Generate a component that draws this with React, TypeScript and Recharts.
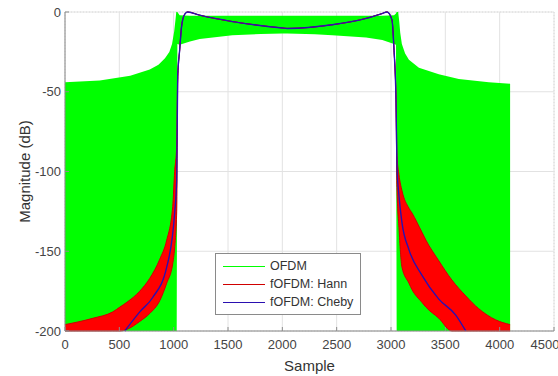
import { ComposedChart, Area, Line, XAxis, YAxis, CartesianGrid } from 'recharts'

const xTicks = [0, 500, 1000, 1500, 2000, 2500, 3000, 3500, 4000, 4500]
const yTicks = [-200, -150, -100, -50, 0]
const xMinorTicks = Array.from({ length: 46 }, (_, i) => i * 100)
const yMinorTicks = Array.from({ length: 21 }, (_, i) => -200 + i * 10)

// OFDM spectrum, drawn as the envelope of its sidelobes (dB)
const ofdmSample = [0, 320, 600, 780, 860, 920, 960, 985, 1005, 1018, 1024, 1028, 1034, 1055, 1150, 1240, 1540, 1800, 2000, 2046, 2300, 2460, 2770, 2920, 3028, 3046, 3052, 3058, 3066, 3076, 3085, 3100, 3130, 3165, 3257, 3440, 3624, 3900, 4096]
const ofdmLow = [-200, -200, -200, -200, -200, -200, -200, -200, -200, -200, -200, -200, -20, -20.6, -18.5, -17, -14.5, -13.8, -13.5, -13.5, -14, -14.5, -16, -17.5, -20, -20.6, -200, -200, -200, -200, -200, -200, -200, -200, -200, -200, -200, -200, -200]
const ofdmHigh = [-44, -43, -40, -36, -33, -29, -25, -20, -12, -4, 0, 0, 0, -2, -2.3, -2.3, -2.3, -2.3, -2.3, -2.3, -2.3, -2.3, -2.3, -2.3, -2, -1, 0, 0, 0, -6, -13, -20, -26, -30, -35, -39, -42, -44, -45]

// fOFDM with Hann window
const hannSample = [0, 257, 440, 505, 569, 688, 780, 872, 936, 991, 1009, 1028, 1037, 1055, 1073, 1101, 1128, 1239, 1541, 2000, 2046, 2459, 2771, 2917, 2963, 3009, 3028, 3046, 3055, 3073, 3101, 3165, 3193, 3284, 3321, 3440, 3560, 3688, 3807, 3963, 4096]
const hannLow = [-200, -200, -200, -200, -199, -194, -189, -181, -170, -158, -148, -125, -45, -24, -9, -1.5, 0, -2, -6, -10, -10.3, -8, -4, -1, 0, -5, -24, -55, -110, -135, -160, -170, -174, -182, -185, -192, -200, -200, -200, -200, -200]
const hannHigh = [-196, -192, -188, -185, -182, -175, -167, -155, -143, -122, -100, -84, -40, -24, -9, -1.5, 0, -2, -6, -10, -10.3, -8, -4, -1, 0, -5, -24, -55, -90, -102, -112, -123, -126, -138, -143, -156, -168, -178, -186, -193, -196]

// fOFDM with Chebyshev window
const chebySample = [550, 688, 807, 936, 1009, 1028, 1037, 1055, 1073, 1101, 1128, 1239, 1541, 2000, 2046, 2459, 2771, 2917, 2963, 3009, 3028, 3046, 3055, 3073, 3101, 3165, 3284, 3440, 3596, 3688]
const chebyDb = [-200, -188, -179, -160, -126, -105, -40, -24, -9, -1.5, 0, -2, -6, -10, -10.3, -8, -4, -1, 0, -5, -24, -55, -97, -115, -132, -149, -165, -180, -190, -200]

const legendItems = [
  { name: 'OFDM', color: '#00ff00' },
  { name: 'fOFDM: Hann', color: '#d00000' },
  { name: 'fOFDM: Cheby', color: '#2a10b0' },
]

const ofdmData = ofdmSample.map((s, i) => ({ sample: s, range: [ofdmLow[i], ofdmHigh[i]] }))
const hannData = hannSample.map((s, i) => ({ sample: s, range: [hannLow[i], hannHigh[i]] }))
const chebyData = chebySample.map((s, i) => ({ sample: s, db: chebyDb[i] }))

const font = '"Liberation Sans", Arial, sans-serif'

function LegendBox() {
  return (
    <div style={{ position: 'absolute', left: 215, top: 253, width: 144, border: '1px solid #8a8a8a', background: '#fff', padding: '3px 0', fontFamily: font, fontSize: 12.5, color: '#333', lineHeight: '18px' }}>
      {legendItems.map((it) => (
        <div key={it.name} style={{ position: 'relative', height: 18 }}>
          <div style={{ position: 'absolute', left: 7, top: 9, width: 42, height: 1, background: it.color }} />
          <div style={{ position: 'absolute', left: 54, top: 0, whiteSpace: 'nowrap' }}>{it.name}</div>
        </div>
      ))}
    </div>
  )
}

export default function App() {
  return (
    <div style={{ position: 'absolute', left: 0, top: 0, width: 558, height: 376 }}>
      <ComposedChart width={558} height={376} margin={{ top: 12, right: 4, left: 0, bottom: 0 }}>
        <XAxis xAxisId="minor" dataKey="sample" type="number" domain={[0, 4500]} ticks={xMinorTicks} hide />
        <YAxis yAxisId="minor" type="number" domain={[-200, 0]} ticks={yMinorTicks} hide />
        <CartesianGrid xAxisId="minor" yAxisId="minor" stroke="#d4d4d4" strokeDasharray="1 2" />
        <CartesianGrid stroke="#e2e2e2" />
        <XAxis
          dataKey="sample"
          type="number"
          domain={[0, 4500]}
          ticks={xTicks}
          height={45}
          stroke="#8c8c8c"
          tickSize={-4}
          tickMargin={13}
          tick={{ fontSize: 13, fill: '#444', fontFamily: font }}
          label={{ value: 'Sample', position: 'insideBottom', offset: 5, style: { fontSize: 15, fill: '#333', fontFamily: font } }}
        />
        <YAxis
          type="number"
          domain={[-200, 0]}
          ticks={yTicks}
          width={65}
          stroke="#8c8c8c"
          tickSize={-4}
          tickMargin={8}
          tick={{ fontSize: 13, fill: '#444', fontFamily: font }}
          label={{ value: 'Magnitude (dB)', angle: -90, position: 'insideLeft', offset: 25, style: { fontSize: 15, fill: '#333', fontFamily: font, textAnchor: 'middle' } }}
        />
        <Area data={ofdmData} dataKey="range" name="OFDM" type="linear" fill="#00ff00" fillOpacity={1} stroke="none" isAnimationActive={false} />
        <Area data={hannData} dataKey="range" name="fOFDM: Hann" type="monotone" fill="#ff0000" fillOpacity={1} stroke="#d00000" strokeWidth={1} isAnimationActive={false} />
        <Line data={chebyData} dataKey="db" name="fOFDM: Cheby" type="monotone" stroke="#2a10b0" strokeWidth={1.4} dot={false} isAnimationActive={false} />
      </ComposedChart>
      <LegendBox />
    </div>
  )
}
